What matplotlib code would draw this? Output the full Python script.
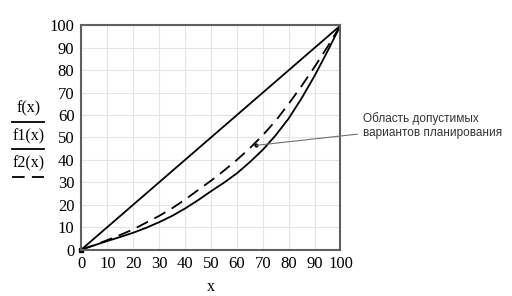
import matplotlib
matplotlib.use("Agg")
import matplotlib.pyplot as plt
from matplotlib.lines import Line2D

# values (x step 5)
x = [0, 5, 10, 15, 20, 25, 30, 35, 40, 45, 50, 55, 60, 65, 70, 75, 80, 85, 90, 95, 100]
f = [0, 5, 10, 15, 20, 25, 30, 35, 40, 45, 50, 55, 60, 65, 70, 75, 80, 85, 90, 95, 100]
f1 = [0, 1.9, 3.8, 5.6, 7.5, 9.7, 12.2, 15.0, 18.3, 22.0, 26.0, 29.8, 34.0, 39.0,
      44.5, 51.0, 58.5, 67.5, 77.5, 88.5, 100]
f2 = [0, 2.0, 4.2, 6.5, 9.0, 12.0, 15.0, 18.4, 22.3, 26.5, 30.7, 35.2, 40.0, 45.2,
      51.0, 57.5, 65.0, 73.0, 81.5, 90.5, 100]
ticks = list(range(0, 101, 10))
note_text = "Область допустимых\nвариантов планирования"
note_xy = (67.5, 46.5)

plt.rcParams['font.family'] = ['Liberation Serif', 'DejaVu Serif']

fig = plt.figure(figsize=(5.12, 2.96), dpi=100)
ax = fig.add_axes([0.159, 0.157, 0.506, 0.757])

ax.plot(x, f, color='black', lw=1.3)
ax.plot(x, f1, color='black', lw=1.3)
ax.plot(x, f2, color='black', lw=1.3, dashes=(7, 4))

ax.set_xlim(0, 100)
ax.set_ylim(0, 100)
ax.set_xticks(ticks)
ax.set_yticks(ticks)
ax.tick_params(length=0, labelsize=12, pad=5)
ax.grid(True, color='#e4e4e4', lw=0.8)
ax.set_axisbelow(True)
for s in ax.spines.values():
    s.set_color('#606060')
    s.set_linewidth(1.5)
ax.set_xlabel("x", fontsize=11.5, labelpad=5)

# Mathcad style legend on the left
fig.text(0.056, 0.635, "f(x)", fontsize=11.5, ha='center', va='center')
fig.text(0.056, 0.54, "f1(x)", fontsize=11.5, ha='center', va='center')
fig.text(0.056, 0.449, "f2(x)", fontsize=11.5, ha='center', va='center')
fig.add_artist(Line2D([0.024, 0.085], [0.588, 0.588], color='black', lw=1.3,
                      transform=fig.transFigure))
fig.add_artist(Line2D([0.024, 0.085], [0.497, 0.497], color='black', lw=1.3,
                      transform=fig.transFigure))
fig.add_artist(Line2D([0.024, 0.085], [0.402, 0.402], color='black', lw=1.3,
                      dashes=(7, 4), transform=fig.transFigure))

ax.annotate(note_text, xy=note_xy, xytext=(0.709, 0.575), textcoords='figure fraction',
            fontsize=8.5, family=['Liberation Sans', 'DejaVu Sans'], color='#333333',
            ha='left', va='center', linespacing=1.25,
            arrowprops=dict(arrowstyle='-', color='#707070', lw=0.8, shrinkA=2, shrinkB=0),
            annotation_clip=False)
ax.plot([note_xy[0]], [note_xy[1]], 'o', color='black', ms=2)
ax.plot([0], [0], 's', color='black', ms=3, clip_on=False)

fig.savefig("out.png", dpi=100)
